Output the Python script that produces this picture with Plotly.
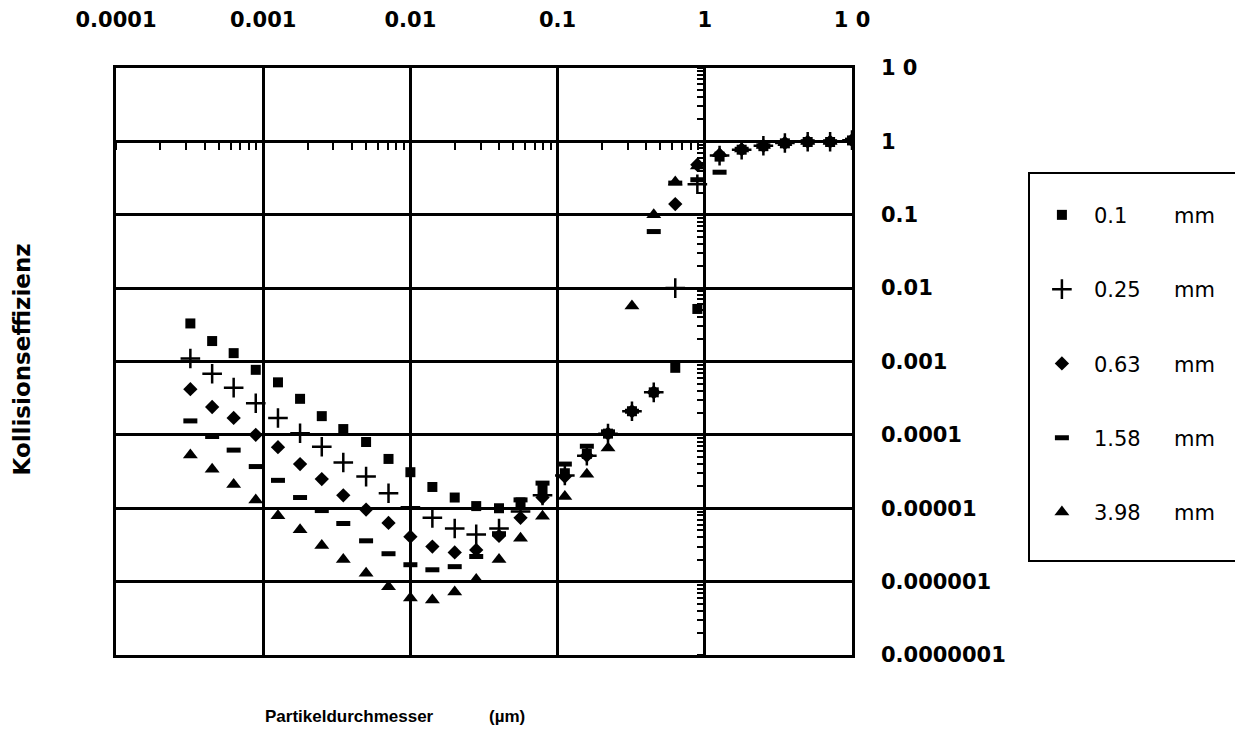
import plotly.graph_objects as go

# Particle diameter (µm)
x_um = [0.00032, 0.00045, 0.00063, 0.00089, 0.00126, 0.00178, 0.0025, 0.0035,
        0.005, 0.0071, 0.01, 0.0141, 0.02, 0.028, 0.04, 0.056, 0.079, 0.112,
        0.158, 0.22, 0.32, 0.45, 0.63, 0.89, 1.26, 1.78, 2.5, 3.5, 5.0, 7.1, 10.0]

eff_01 = [3.3e-3, 1.9e-3, 1.3e-3, 7.7e-4, 5.2e-4, 3.1e-4, 1.8e-4, 1.2e-4, 8e-5, 4.7e-5,
          3.1e-5, 1.95e-5, 1.4e-5, 1.07e-5, 1.0e-5, 1.2e-5, 1.8e-5, 3.0e-5, 5.5e-5, 1.04e-4,
          2.1e-4, 3.8e-4, 8.2e-4, 5.2e-3, 0.62, 0.77, 0.86, 0.94, 0.98, 0.98, 1.03]
eff_025 = [1.1e-3, 6.8e-4, 4.4e-4, 2.7e-4, 1.7e-4, 1.05e-4, 6.9e-5, 4.2e-5, 2.7e-5, 1.6e-5,
           1.03e-5, 7.4e-6, 5.3e-6, 4.4e-6, 5.3e-6, 9e-6, 1.5e-5, 2.8e-5, 5.2e-5, 1.04e-4,
           2.1e-4, 3.8e-4, 1.0e-2, 0.26, 0.64, 0.77, 0.87, 0.95, 0.99, 0.99, 1.04]
eff_063 = [4.2e-4, 2.4e-4, 1.7e-4, 1.0e-4, 6.8e-5, 4.0e-5, 2.5e-5, 1.5e-5, 9.6e-6, 6.3e-6,
           4.1e-6, 3.0e-6, 2.5e-6, 2.7e-6, 4.2e-6, 7.4e-6, 1.4e-5, 2.7e-5, 5.2e-5, 1.04e-4,
           2.1e-4, 3.8e-4, 0.14, 0.48, 0.66, 0.78, 0.87, 0.95, 0.99, 0.99, 1.04]
eff_158 = [1.55e-4, 9.5e-5, 6.2e-5, 3.7e-5, 2.4e-5, 1.4e-5, 9.3e-6, 6.2e-6, 3.6e-6, 2.4e-6,
           1.7e-6, 1.45e-6, 1.6e-6, 2.2e-6, 4.5e-6, 1.3e-5, 2.2e-5, 4.0e-5, 7.0e-5, 1.1e-4,
           2.1e-4, 0.059, 0.27, 0.3, 0.38, 0.78, 0.87, 0.95, 0.99, 0.99, 1.04]
eff_398 = [5.3e-5, 3.4e-5, 2.1e-5, 1.3e-5, 7.9e-6, 5.1e-6, 3.1e-6, 2.0e-6, 1.3e-6, 8.5e-7,
           6e-7, 5.6e-7, 7.2e-7, 1.07e-6, 2.0e-6, 3.9e-6, 7.8e-6, 1.45e-5, 2.9e-5, 6.6e-5,
           5.7e-3, 0.1, 0.28, 0.46, 0.68, 0.79, 0.88, 0.96, 1.0, 1.0, 1.05]

series_names = ["0.1" + " " * 7 + "mm   ", "0.25" + " " * 5 + "mm   ", "0.63" + " " * 5 + "mm   ",
                "1.58" + " " * 5 + "mm   ", "3.98" + " " * 5 + "mm   <br> "]
series_vals = [eff_01, eff_025, eff_063, eff_158, eff_398]
symbols = ["square", "cross-thin", "diamond", "line-ew", "triangle-up"]
sizes = [10, 14, 11, 10, 13]
line_w = [0, 2.5, 0, 5, 0]

x_ticks = [0.0001, 0.001, 0.01, 0.1, 1, 10]
x_ticktext = ["0.0001", "0.001", "0.01", "0.1", "1", "1 0"]
y_ticks = [1e-7, 1e-6, 1e-5, 1e-4, 1e-3, 1e-2, 1e-1, 1, 10]
y_ticktext = ["0.0000001", "0.000001", "0.00001", "0.0001", "0.001", "0.01", "0.1", "1", "1 0"]

FONT = "DejaVu Sans"

fig = go.Figure()
for i, (nm, vals) in enumerate(zip(series_names, series_vals)):
    fig.add_trace(go.Scatter(
        x=x_um, y=vals, mode="markers", name=nm, legendgroup="g%d" % i,
        marker=dict(symbol=symbols[i], size=sizes[i], color="black",
                    line=dict(color="black", width=line_w[i])),
    ))

# empty trace to activate the inner crossing axes (x = 1, y = 1)
fig.add_trace(go.Scatter(x=[], y=[], xaxis="x2", yaxis="y2", showlegend=False, hoverinfo="skip"))

minor_x = [m * 10.0 ** e for e in range(-4, 0) for m in range(1, 10)] + [1.0]
minor_y = [m * 10.0 ** e for e in range(-7, 1) for m in range(1, 10)] + [10.0]

tick_font = dict(size=21, weight="bold", family=FONT, color="black")

fig.update_layout(
    width=1227, height=722, autosize=False,
    margin=dict(l=108, r=383, t=60, b=75, autoexpand=False),
    paper_bgcolor="white", plot_bgcolor="white",
    font=dict(family=FONT, color="black"),
    xaxis=dict(type="log", range=[-4, 1], side="top",
               tickvals=x_ticks, ticktext=x_ticktext, ticks="",
               tickfont=tick_font, ticklabelstandoff=30, automargin=False,
               showgrid=True, gridcolor="black", gridwidth=2.5,
               showline=True, linecolor="black", linewidth=2.5, mirror=True,
               zeroline=False),
    yaxis=dict(type="log", range=[-7, 1], side="right",
               tickvals=y_ticks, ticktext=y_ticktext, ticks="",
               tickfont=tick_font, ticklabelstandoff=22, automargin=False,
               showgrid=True, gridcolor="black", gridwidth=2.5,
               showline=True, linecolor="black", linewidth=2.5, mirror=True,
               zeroline=False),
    xaxis2=dict(type="log", range=[-4, 1], overlaying="x", anchor="free", position=0.875,
                side="bottom", tickvals=minor_x, ticks="outside", ticklen=8, tickwidth=2,
                tickcolor="black", showticklabels=False, showgrid=False, showline=False,
                zeroline=False, automargin=False),
    yaxis2=dict(type="log", range=[-7, 1], overlaying="y", anchor="free", position=0.8,
                side="left", tickvals=minor_y, ticks="outside", ticklen=8, tickwidth=2,
                tickcolor="black", showticklabels=False, showgrid=False, showline=False,
                zeroline=False, automargin=False),
    legend=dict(x=1.239, y=0.823, xanchor="left", yanchor="top", valign="top",
                bordercolor="black", borderwidth=2, bgcolor="white",
                font=dict(size=21, family=FONT, color="black"),
                title=dict(text=" ", font=dict(size=16)),
                itemwidth=54, tracegroupgap=44),
    showlegend=True,
    annotations=[
        dict(text="<b>Partikeldurchmesser</b>",
             xref="paper", yref="paper", x=0.1997, y=-0.1056, xanchor="left", yanchor="middle",
             showarrow=False, font=dict(size=17, family="Liberation Sans", color="black")),
        dict(text="<b>(µm)</b>",
             xref="paper", yref="paper", x=0.504, y=-0.1056, xanchor="left", yanchor="middle",
             showarrow=False, font=dict(size=17, family="Liberation Sans", color="black")),
        dict(text="<b>Kollisionseffizienz</b>", textangle=-90,
             xref="paper", yref="paper", x=-0.128, y=0.503, xanchor="center", yanchor="middle",
             showarrow=False, font=dict(size=23, family=FONT, color="black")),
    ],
)

fig.write_html("out.html")
